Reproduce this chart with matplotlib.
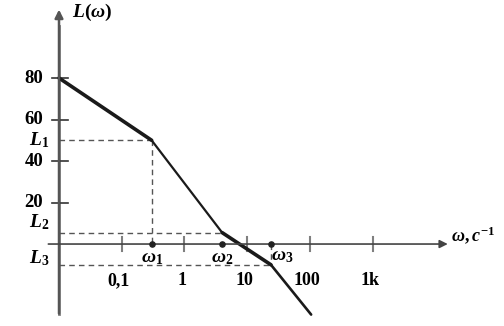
import matplotlib
matplotlib.use("Agg")
import matplotlib.pyplot as plt

plt.rcParams["mathtext.fontset"] = "custom"
plt.rcParams["mathtext.it"] = "Liberation Serif:italic:bold"
plt.rcParams["mathtext.rm"] = "Liberation Serif:bold"
plt.rcParams["mathtext.bf"] = "Liberation Serif:bold"

# asymptotic LAFC corner points
omega_pts = [0.01, 0.3, 4.0, 24.0, 105.0]
L_pts = [80, 50, 5.5, -10, -34]
seg_widths = [2.6, 1.6, 2.6, 1.9]

y_ticks = [20, 40, 60, 80]
x_ticks = [0.1, 1, 10, 100, 1000]
x_tick_labels = ["0,1", "1", "10", "100", "1k"]

serif = "Liberation Serif"

fig = plt.figure(figsize=(5.04, 3.26), dpi=100)
ax = fig.add_axes([0, 0, 1, 1])
ax.set_xscale("log")
# pixel-aligned limits: decade = 62.7 px, 20 dB = 41.5 px
ax.set_xlim(10 ** -2.941, 10 ** 5.097)
ax.set_ylim(-39.5, 117.6)
ax.axis("off")

axis_col = "#7f7f7f"
# vertical axis with arrow
ax.annotate("", xy=(0.01, 113), xytext=(0.01, -33.5),
            arrowprops=dict(arrowstyle="-|>", color="#555555", lw=1.8,
                            mutation_scale=12, shrinkA=0, shrinkB=0))
ax.plot([0.01, 0.01], [-33.5, 105], color=axis_col, lw=2)
# horizontal axis with arrow
ax.annotate("", xy=(10 ** 4.2, 0), xytext=(10 ** -2.17, 0),
            arrowprops=dict(arrowstyle="-|>", color="#444444", lw=1.2,
                            mutation_scale=12, shrinkA=0, shrinkB=0))

# y ticks
for v in y_ticks:
    ax.plot([10 ** -2.11, 10 ** -1.86], [v, v], color="#333333", lw=1.2)
    ax.text(10 ** -2.25, v, str(v), ha="right", va="center",
            fontsize=13.5, fontweight="bold", family=serif)

# x ticks
for xv, lab in zip(x_ticks, x_tick_labels):
    ax.plot([xv, xv], [-3.3, 3.3], color=axis_col, lw=1.5)
    ax.text(xv * 0.9, -17.5, lab, ha="center", va="center",
            fontsize=13, fontweight="bold", family=serif)

# dashed helper lines
dash = dict(color="#555555", lw=1, ls=(0, (4, 3)))
ax.plot([0.01, omega_pts[1]], [L_pts[1], L_pts[1]], **dash)
ax.plot([omega_pts[1], omega_pts[1]], [L_pts[1], 0], **dash)
ax.plot([0.01, omega_pts[2]], [L_pts[2], L_pts[2]], **dash)
ax.plot([0.01, omega_pts[3]], [L_pts[3], L_pts[3]], **dash)
ax.plot([omega_pts[3], omega_pts[3]], [0, L_pts[3]], **dash)

# characteristic
for i, w in enumerate(seg_widths):
    ax.plot(omega_pts[i:i + 2], L_pts[i:i + 2], color="#1a1a1a", lw=w,
            solid_capstyle="round")

# corner frequency dots
ax.scatter(omega_pts[1:4], [0, 0, 0], s=14, color="#222222", zorder=5)

# L labels
for name, v, dy in [("1", L_pts[1], 0), ("2", L_pts[2], 5), ("3", L_pts[3], 3)]:
    ax.text(10 ** -2.15, v + dy, r"$L_{%s}$" % name,
            ha="right", va="center", fontsize=14)

# omega labels
ax.text(omega_pts[1], -6.5, r"$\omega_1$", ha="center", va="center", fontsize=14)
ax.text(omega_pts[2], -6.5, r"$\omega_2$", ha="center", va="center", fontsize=14)
ax.text(omega_pts[3] * 1.02, -5.5, r"$\omega_3$", ha="left", va="center", fontsize=14)

# axis titles
ax.text(10 ** -1.8, 111.5, r"$L(\omega)$", ha="left", va="center", fontsize=14)
ax.text(10 ** 4.25, 4.5, r"$\omega, c^{-1}$", ha="left", va="center", fontsize=13)

fig.savefig("out.png", dpi=100)
